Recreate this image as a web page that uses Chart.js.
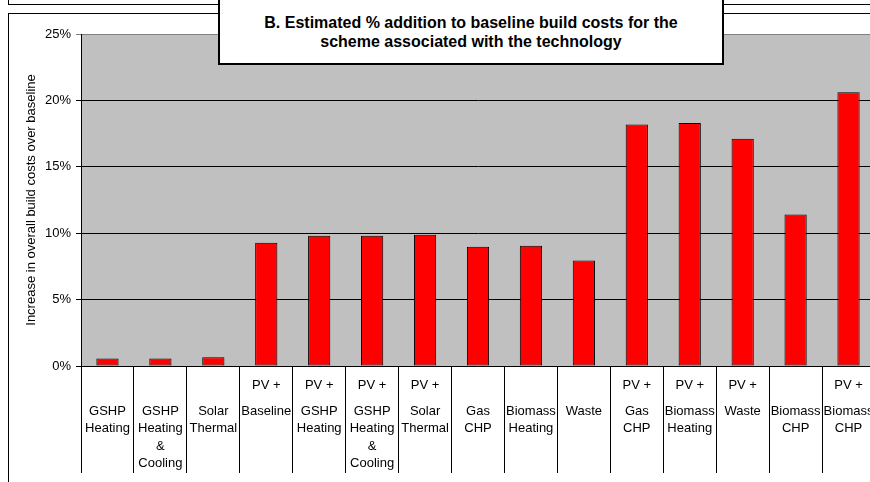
<!DOCTYPE html>
<html>
<head>
<meta charset="utf-8">
<script src="https://cdn.jsdelivr.net/npm/chart.js@4/dist/chart.umd.min.js"></script>
<style>
  html, body { margin: 0; padding: 0; background: #fff; }
  body { position: relative; width: 870px; height: 482px; overflow: hidden; font-family: "Liberation Sans", Arial, sans-serif; }
  .line { position: absolute; background: #000; }
  #chart { position: absolute; left: 0; top: 0; }
  #title {
    position: absolute; left: 218px; top: -2px; width: 502px; height: 63px;
    background: #fff; border: 2px solid #000;
    font: bold 16px "Liberation Sans", Arial, sans-serif; color: #000;
    text-align: center; line-height: 19px;
    display: flex; flex-direction: column; justify-content: center;
  }
</style>
</head>
<body>
<!-- frame of the panel above and of this panel -->
<div class="line" style="left:8px; top:0; width:1px; height:5px;"></div>
<div class="line" style="left:8px; top:4px; width:862px; height:1px;"></div>
<div class="line" style="left:8px; top:13px; width:862px; height:1px;"></div>
<div class="line" style="left:8px; top:13px; width:1px; height:469px;"></div>

<canvas id="chart" width="875" height="482"></canvas>

<div id="title">
  <div>B. Estimated % addition to baseline build costs for the</div>
  <div>scheme associated with the technology</div>
</div>

<script>
// Technology schemes, one entry per bar; each entry holds the label's lines
const categories = [
  ['GSHP', 'Heating'],
  ['GSHP', 'Heating', '&', 'Cooling'],
  ['Solar', 'Thermal'],
  ['PV +', 'Baseline'],
  ['PV +', 'GSHP', 'Heating'],
  ['PV +', 'GSHP', 'Heating', '&', 'Cooling'],
  ['PV +', 'Solar', 'Thermal'],
  ['Gas', 'CHP'],
  ['Biomass', 'Heating'],
  ['Waste'],
  ['PV +', 'Gas', 'CHP'],
  ['PV +', 'Biomass', 'Heating'],
  ['PV +', 'Waste'],
  ['Biomass', 'CHP'],
  ['PV +', 'Biomass', 'CHP']
];

// Increase in overall build costs over baseline (%)
const costIncrease = [0.56, 0.56, 0.65, 9.29, 9.81, 9.81, 9.89, 8.98, 9.06, 7.95, 18.19, 18.29, 17.11, 11.41, 20.62];

// Value axis ticks (%)
const yTickValues = [0, 5, 10, 15, 20, 25];

const yTitle = 'Increase in overall build costs over baseline';

// Lay each label out on half-height slots: "PV +" on the first row,
// the technology name starting a row and a half below, one row per word.
function labelSlots(lines) {
  const out = [];
  let rest = lines;
  out[0] = '';
  if (lines[0] === 'PV +') { out[0] = 'PV +'; rest = lines.slice(1); }
  rest.forEach((t, i) => {
    const slot = 3 + 2 * i;
    while (out.length < slot) out.push('');
    out[slot] = t;
  });
  return out;
}

// Grey plot area behind the bars
const plotBackground = {
  id: 'plotBackground',
  beforeDraw(chart) {
    const { ctx, chartArea: a } = chart;
    ctx.save();
    ctx.fillStyle = '#c0c0c0';
    ctx.fillRect(a.left, a.top, a.right - a.left, a.bottom - a.top);
    ctx.restore();
  }
};

new Chart(document.getElementById('chart'), {
  type: 'bar',
  data: {
    labels: categories.map(c => c.join(' ')),
    datasets: [{
      data: costIncrease,
      backgroundColor: '#ff0000',
      borderColor: '#000000',
      borderWidth: 1,
      borderSkipped: false,
      barPercentage: 0.42,
      categoryPercentage: 1
    }]
  },
  options: {
    responsive: false,
    animation: false,
    layout: { padding: { left: 0, top: 34, right: 0, bottom: 0 } },
    plugins: {
      legend: { display: false },
      title: { display: false },
      tooltip: { enabled: false }
    },
    scales: {
      x: {
        type: 'category',
        offset: true,
        afterFit(scale) { scale.height = 116; },
        grid: {
          offset: true,
          drawOnChartArea: false,
          drawTicks: true,
          tickLength: 107,
          color: '#000',
          lineWidth: 1
        },
        border: { display: true, color: '#000', width: 1 },
        ticks: {
          autoSkip: false,
          maxRotation: 0,
          minRotation: 0,
          padding: -92.4,
          color: '#000',
          font: { family: '"Liberation Sans", Arial, sans-serif', size: 13, lineHeight: '8.75px' },
          callback: (v, i) => labelSlots(categories[i])
        }
      },
      y: {
        min: 0,
        max: 25,
        afterFit(scale) { scale.width = 81; },
        afterBuildTicks(scale) { scale.ticks = yTickValues.map(v => ({ value: v })); },
        grid: {
          drawOnChartArea: true,
          drawTicks: true,
          tickLength: 5,
          color: ctx => (ctx.tick && ctx.tick.value === 25 ? '#808080' : '#000'),
          lineWidth: 1
        },
        border: { display: true, color: '#000', width: 1 },
        ticks: {
          padding: 5,
          color: '#000',
          font: { family: '"Liberation Sans", Arial, sans-serif', size: 13 },
          callback: v => v + '%'
        },
        title: {
          display: true,
          text: yTitle,
          color: '#000',
          padding: { top: 23.5, bottom: 0 },
          font: { family: '"Liberation Sans", Arial, sans-serif', size: 13, weight: 'normal' }
        }
      }
    }
  },
  plugins: [plotBackground]
});
</script>
</body>
</html>
